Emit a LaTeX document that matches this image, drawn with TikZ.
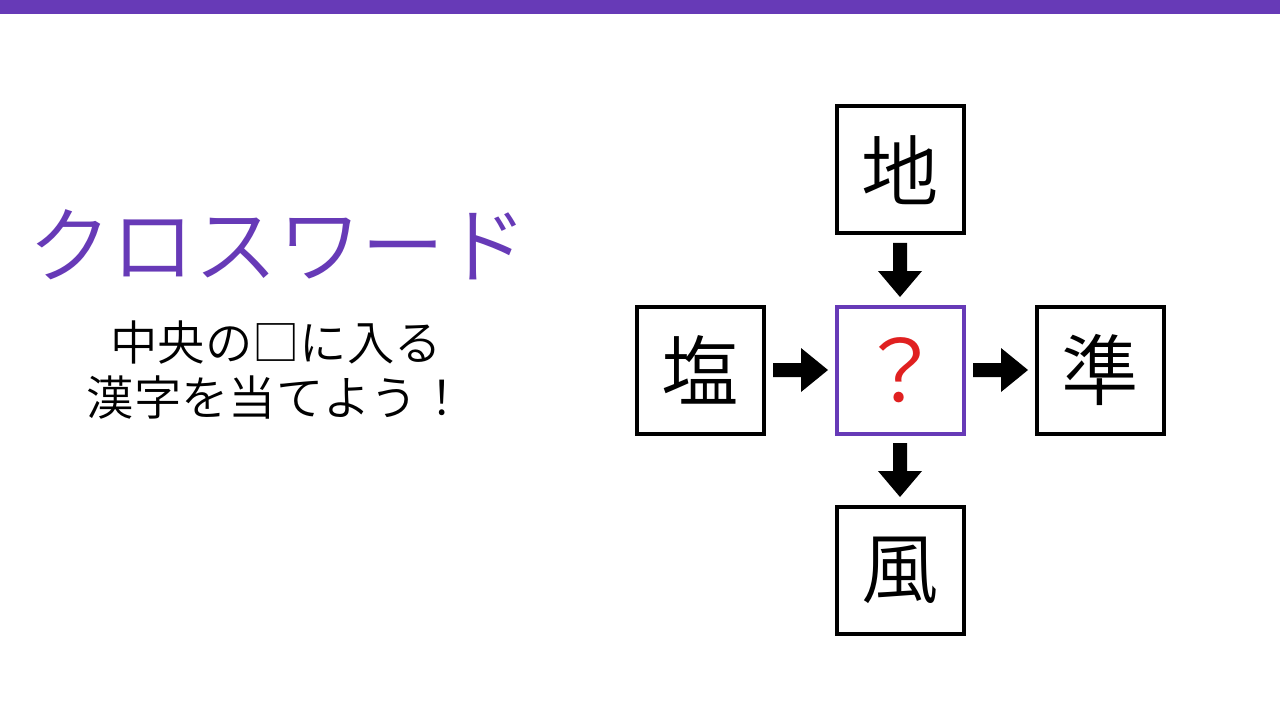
\documentclass[tikz,border=0pt]{standalone}
\usepackage{fontspec}
\setmainfont{Noto Sans CJK JP}
\newfontfamily\cjk{Noto Sans CJK JP DemiLight}
\definecolor{brandpurple}{HTML}{673AB7}
\definecolor{qred}{HTML}{E02020}
\begin{document}
\begin{tikzpicture}[x=0.75pt,y=-0.75pt,
  cell/.style={draw=black,line width=3pt,minimum size=95.25pt,inner sep=0pt,font=\cjk\fontsize{58}{64}\selectfont},
  blockarrow/.style={fill=black,draw=none}]
\useasboundingbox (0,0) rectangle (1280,720);
\fill[white] (0,0) rectangle (1280,720);
\fill[brandpurple] (0,0) rectangle (1280,14);
\node[text=brandpurple,font=\cjk\fontsize{62.5}{68}\selectfont] (title) at (278,245) {クロスワード};
\node[align=center,font=\cjk\fontsize{35.5}{41.5}\selectfont] (sub) at (276,370) {中央の□に入る\\漢字を当てよう！};
\node[cell] (top) at (900,170) {地};
\node[cell,draw=brandpurple,text=qred,font=\cjk\fontsize{64}{70}\selectfont] (mid) at (900,370) {？};
\node[cell] (left) at (700,370) {塩};
\node[cell] (right) at (1100,370) {準};
\node[cell] (bot) at (900,570) {風};
% down arrows
\fill[blockarrow] (893,243) -- (907,243) -- (907,271) -- (922,271) -- (900,297) -- (878,271) -- (893,271) -- cycle;
\fill[blockarrow] (893,443) -- (907,443) -- (907,471) -- (922,471) -- (900,497) -- (878,471) -- (893,471) -- cycle;
% right arrows
\fill[blockarrow] (773,363) -- (801,363) -- (801,348) -- (828,370) -- (801,392) -- (801,377) -- (773,377) -- cycle;
\fill[blockarrow] (973,363) -- (1001,363) -- (1001,348) -- (1028,370) -- (1001,392) -- (1001,377) -- (973,377) -- cycle;
\end{tikzpicture}
\end{document}
